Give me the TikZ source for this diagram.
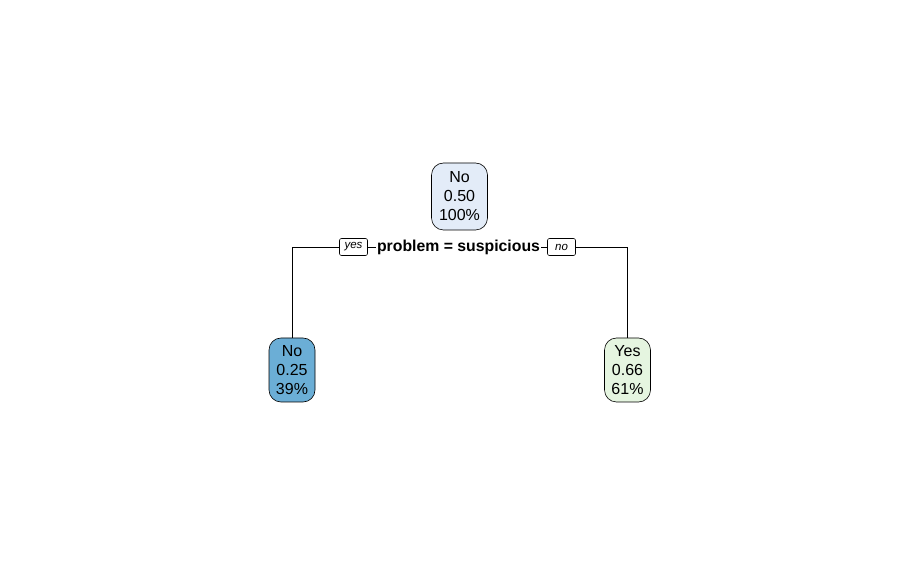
\documentclass[tikz,border=0pt]{standalone}
\usepackage{fontspec}
\setmainfont{Liberation Sans}
\begin{document}
\begin{tikzpicture}[x=1pt,y=1pt,
  leaf/.style={draw=black, line width=0.6pt, rounded corners=12pt, minimum width=46pt, minimum height=64pt, inner sep=0pt, align=center, font=\fontsize{16}{19}\selectfont},
  lbl/.style={draw=black, line width=0.6pt, rounded corners=2pt, inner sep=0pt, minimum width=28pt, minimum height=17pt, font=\fontsize{11.5}{13}\selectfont\itshape},
  wire/.style={line width=0.6pt}]
\useasboundingbox (0,0) rectangle (920,573);
\definecolor{rootfill}{HTML}{E3ECF8}
\definecolor{leftfill}{HTML}{6BAED6}
\definecolor{rightfill}{HTML}{E5F5E0}
\node[leaf, fill=rootfill, minimum width=56pt, minimum height=67pt] (root) at (459.5,376.5) {No\\0.50\\100\%};
\node[font=\fontsize{15.8}{18}\selectfont\bfseries, inner sep=0pt] (split) at (458.5,326) {problem = suspicious};
\node[lbl] (yes) at (353.5,326) {yes};
\node[lbl] (no) at (561.5,326) {no};
\node[leaf, fill=leftfill] (left) at (292,203) {No\\0.25\\39\%};
\node[leaf, fill=rightfill] (right) at (627.5,203) {Yes\\0.66\\61\%};
\draw[wire] (yes.west) -| (left.north);
\draw[wire] (no.east) -| (right.north);
\draw[wire] (yes.east) -- ([xshift=-1pt]split.west);
\draw[wire] ([xshift=1pt]split.east) -- (no.west);
\end{tikzpicture}
\end{document}
